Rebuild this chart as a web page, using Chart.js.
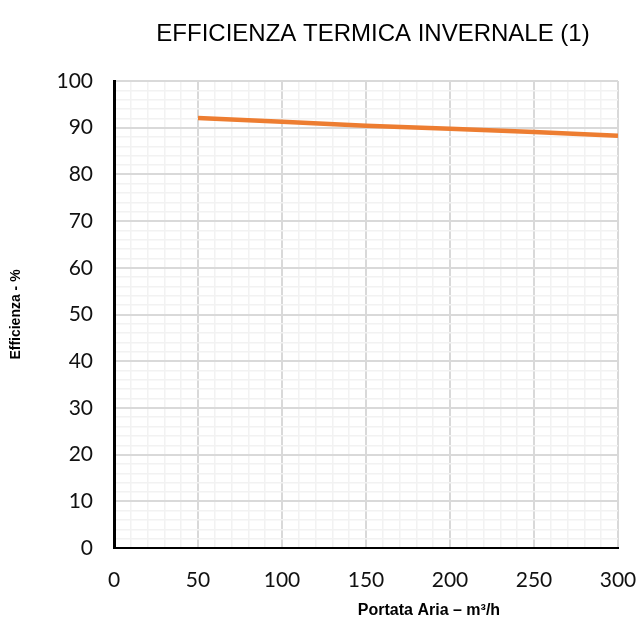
<!DOCTYPE html>
<html>
<head>
<meta charset="utf-8">
<script src="https://cdn.jsdelivr.net/npm/chart.js@4/dist/chart.umd.min.js"></script>
<style>
  html, body { margin: 0; padding: 0; background: #ffffff; }
  #wrap { width: 639px; height: 620px; }
</style>
</head>
<body>
<div id="wrap"><canvas id="c" width="639" height="620"></canvas></div>
<script>
// Air flow (m³/h) and winter thermal efficiency (%)
const airflow = [50, 100, 150, 200, 250, 300];
const efficiency = [92.1, 91.3, 90.4, 89.8, 89.1, 88.3];

const chartTitle = 'EFFICIENZA TERMICA INVERNALE (1)';
const xTitle = 'Portata Aria \u2013 m\u00b3/h';
const yTitle = 'Efficienza - %';

const xMajor = 50, xMinor = 10;
const yMajor = 10, yMinor = 2;

const points = airflow.map((x, i) => ({ x: x, y: efficiency[i] }));

// Title and x-axis caption drawn as text above/below the plot
const captions = {
  id: 'captions',
  afterDraw(chart) {
    const ctx = chart.ctx;
    ctx.save();
    ctx.fillStyle = '#000000';
    ctx.textAlign = 'center';
    ctx.textBaseline = 'middle';
    ctx.font = '24px "Liberation Sans", Arial, sans-serif';
    ctx.fillText(chartTitle, 373, 34);
    ctx.font = 'bold 16px "Liberation Sans", Arial, sans-serif';
    ctx.fillText(xTitle, 429, 611);
    ctx.restore();
  }
};

const whiteBg = {
  id: 'whiteBg',
  beforeDraw(chart) {
    const ctx = chart.ctx;
    ctx.save();
    ctx.fillStyle = '#ffffff';
    ctx.fillRect(0, 0, chart.width, chart.height);
    ctx.restore();
  }
};

const tickFont = { family: 'Lato, "Open Sans", sans-serif', size: 21 };

new Chart(document.getElementById('c'), {
  type: 'line',
  data: {
    datasets: [{
      data: points,
      borderColor: '#ED7D31',
      borderWidth: 4.5,
      pointRadius: 0,
      fill: false,
      tension: 0
    }]
  },
  options: {
    responsive: false,
    animation: false,
    layout: { padding: { top: 81, right: 21, left: 0, bottom: 0 } },
    plugins: {
      legend: { display: false },
      title: { display: false },
      tooltip: { enabled: false }
    },
    scales: {
      x: {
        type: 'linear',
        min: 0,
        max: 300,
        afterFit(scale) {
          scale.height = 72;
          scale.paddingLeft = 0;
          scale.paddingRight = 0;
        },
        ticks: {
          stepSize: xMinor,
          autoSkip: false,
          maxRotation: 0,
          padding: 20,
          color: '#111111',
          font: tickFont,
          callback: v => (v % xMajor === 0 ? String(v) : '')
        },
        grid: {
          drawTicks: false,
          color: ctx => (ctx.tick && ctx.tick.value % xMajor === 0 ? '#D9D9D9' : '#F2F2F2'),
          lineWidth: ctx => (ctx.tick && ctx.tick.value % xMajor === 0 ? 2 : 1.5)
        },
        border: { display: true, color: '#000000', width: 2 }
      },
      y: {
        min: 0,
        max: 100,
        afterFit(scale) {
          scale.width = 114;
          scale.paddingTop = 0;
          scale.paddingBottom = 0;
        },
        ticks: {
          stepSize: yMinor,
          autoSkip: false,
          padding: 21,
          color: '#111111',
          font: tickFont,
          callback: v => (v % yMajor === 0 ? String(v) : '')
        },
        grid: {
          drawTicks: false,
          color: ctx => (ctx.tick && ctx.tick.value % yMajor === 0 ? '#D9D9D9' : '#F2F2F2'),
          lineWidth: ctx => (ctx.tick && ctx.tick.value % yMajor === 0 ? 2 : 1.5)
        },
        border: { display: true, color: '#000000', width: 3 },
        title: {
          display: true,
          text: yTitle,
          color: '#000000',
          font: { family: '"Liberation Sans", Arial, sans-serif', size: 14, weight: 'bold' },
          padding: { top: 8, bottom: 0 }
        }
      }
    }
  },
  plugins: [whiteBg, captions]
});
</script>
</body>
</html>
